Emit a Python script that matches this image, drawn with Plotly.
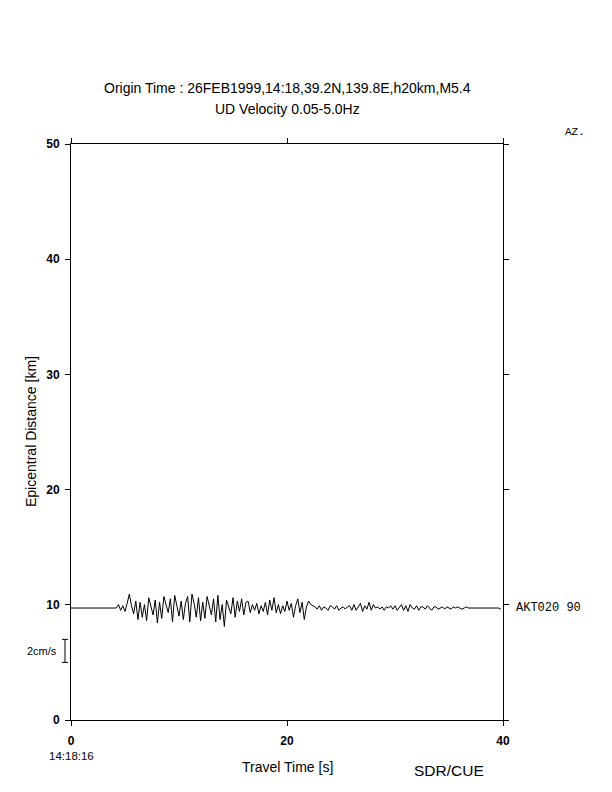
import numpy as np
import plotly.graph_objects as go

# ---- data ----
station = "AKT020"
azimuth = "90"
epi_dist = 9.72          # km (trace baseline)
onset_t = 4.2            # s, start of recorded motion
dt = 0.2                 # s, sample step of the digitised trace
# UD velocity amplitude (cm/s) every 0.2 s starting at onset_t
amps = [
    0.0, 0.3, -0.2, 0.2, -0.3, 0.4, 1.2, 0.2, -0.5, 0.6, -1.0,
    0.5, -0.8, 0.3, -1.1, 0.9, 0.2, -0.6, 0.7, -1.3, 0.5, -0.9,
    1.0, 0.3, -0.4, 0.8, -1.2, 1.1, 0.1, -0.7, 0.6, -1.0, 0.4, 1.0,
    -1.2, 1.2, 0.4, -0.8, 0.9, -1.1, 0.5, -0.9, 1.0, 0.2, -0.6, 0.8,
    -1.2, 1.1, -1.0, 0.3, -1.6, 0.7, 0.1, -0.5, 0.9, -0.8, 0.6,
    -0.3, 0.8, -0.6, 0.5,
    0.6, -0.4, 0.3,
    -0.2, 0.4, -0.5, 0.2, -0.3, 0.5, -0.6, 0.7, -0.2, 0.9,
    -0.4, 0.3, -0.5, 0.2, -0.3, 0.6, -0.2, 0.4, -0.8, 0.2,
    0.8, -0.4, 0.5, -1.0, 0.1, 0.6, 0.3, 0.2, 0.1, -0.1,
    0.2, -0.2, 0.1, 0.0, -0.2, 0.2, 0.1, -0.1, 0.2, -0.2,
    0.0, 0.1, -0.1, 0.1, 0.2, -0.2, 0.3, -0.2, 0.1, 0.4,
    -0.3, 0.2, -0.1, 0.5, -0.2, 0.3, 0.0, 0.1, -0.1, 0.1,
    -0.2, 0.1, 0.0, 0.2, -0.1, 0.2, -0.2, 0.1, 0.3, -0.2,
    0.2, -0.3, 0.3, 0.0, -0.1, 0.2, -0.2, 0.1, 0.1, -0.1,
    0.2, 0.0, -0.2, 0.1, 0.1, -0.1, 0.0, 0.1, -0.1, 0.1,
    0.0, -0.1, 0.1, 0.0, 0.1, 0.0, -0.1, 0.0, 0.1, 0.0,
    0.0, 0.05, 0.05, 0.0, 0.05, 0.05, 0.0, 0.0, 0.05, 0.05,
    0.0, 0.0, 0.05, 0.0, -0.1, 0.0,
]
x_ticks = [0, 20, 40]
y_ticks = [0, 10, 20, 30, 40, 50]
scale_cms = 2.0
scale_bottom = 5.0

t = [0.0] + [onset_t + dt * i for i in range(len(amps))]
y = [epi_dist] + [epi_dist + a for a in amps]
# keep within the 40 s window
pts = [(a, b) for a, b in zip(t, y) if a <= 40.0]
t = [p[0] for p in pts]
y = [p[1] for p in pts]

fig = go.Figure()
fig.add_trace(go.Scatter(x=t, y=y, mode="lines",
                         line=dict(color="black", width=1),
                         hoverinfo="skip", showlegend=False))

font_main = "Liberation Sans, Arial, sans-serif"
mono = "Liberation Mono, Courier New, monospace"

# page has an 8 px body margin: plot area on the page is x 71..503, y 144..720
fig.update_layout(
    width=612, height=792,
    margin=dict(l=63, r=117, t=136, b=80),
    paper_bgcolor="white", plot_bgcolor="white",
    font=dict(family=font_main, size=12, color="black"),
    showlegend=False,
)
axis_common = dict(showline=True, linecolor="black", linewidth=1, mirror="ticks",
                   ticks="outside", ticklen=5, tickwidth=1, tickcolor="black",
                   showgrid=False, zeroline=False,
                   tickfont=dict(family=font_main, size=12, color="black"))
fig.update_xaxes(range=[0, 40], tickvals=x_ticks,
                 ticktext=[f"<b>{v}</b>" for v in x_ticks],
                 ticklabelstandoff=5, **axis_common)
fig.update_yaxes(range=[0, 50], tickvals=y_ticks,
                 ticktext=[f"<b>{v}</b>" for v in y_ticks],
                 ticklabelstandoff=3, **axis_common)

# scale bar (2 cm/s == 2 km on the distance axis)
bx = -6 / 432.0
cap = 3 / 432.0
fig.add_shape(type="line", xref="paper", yref="y", x0=bx, x1=bx,
              y0=scale_bottom, y1=scale_bottom + scale_cms, line=dict(color="black", width=1))
for yy in (scale_bottom, scale_bottom + scale_cms):
    fig.add_shape(type="line", xref="paper", yref="y", x0=bx - cap, x1=bx + cap,
                  y0=yy, y1=yy, line=dict(color="black", width=1))

def A(text, x, y, size=12, family=font_main, xanchor="center", yanchor="middle", angle=0):
    fig.add_annotation(text=text, x=x, y=y, xref="paper", yref="paper",
                       showarrow=False, xanchor=xanchor, yanchor=yanchor,
                       textangle=angle, font=dict(size=size, family=family, color="black"))

def px(xp):
    return (xp - 71) / 432.0
def py(yp):
    return (720 - yp) / 576.0

A("Origin Time : 26FEB1999,14:18,39.2N,139.8E,h20km,M5.4", px(287), py(88), size=14)
A("UD Velocity 0.05-5.0Hz", px(287), py(109), size=14)
A("AZ.", px(563), py(132), size=11, family=mono, xanchor="left")
A(f"{station} {azimuth}", px(514), py(608), size=12, family=mono, xanchor="left")
A("2cm/s", px(42), py(651), size=11)
A("14:18:16", px(71), py(756), size=11.5)
A("Travel Time [s]", px(287), py(767), size=14)
A("SDR/CUE", px(449), py(770), size=15.5)
A("Epicentral Distance [km]", px(31), py(432), size=14, angle=-90)

fig.write_html("out.html")
